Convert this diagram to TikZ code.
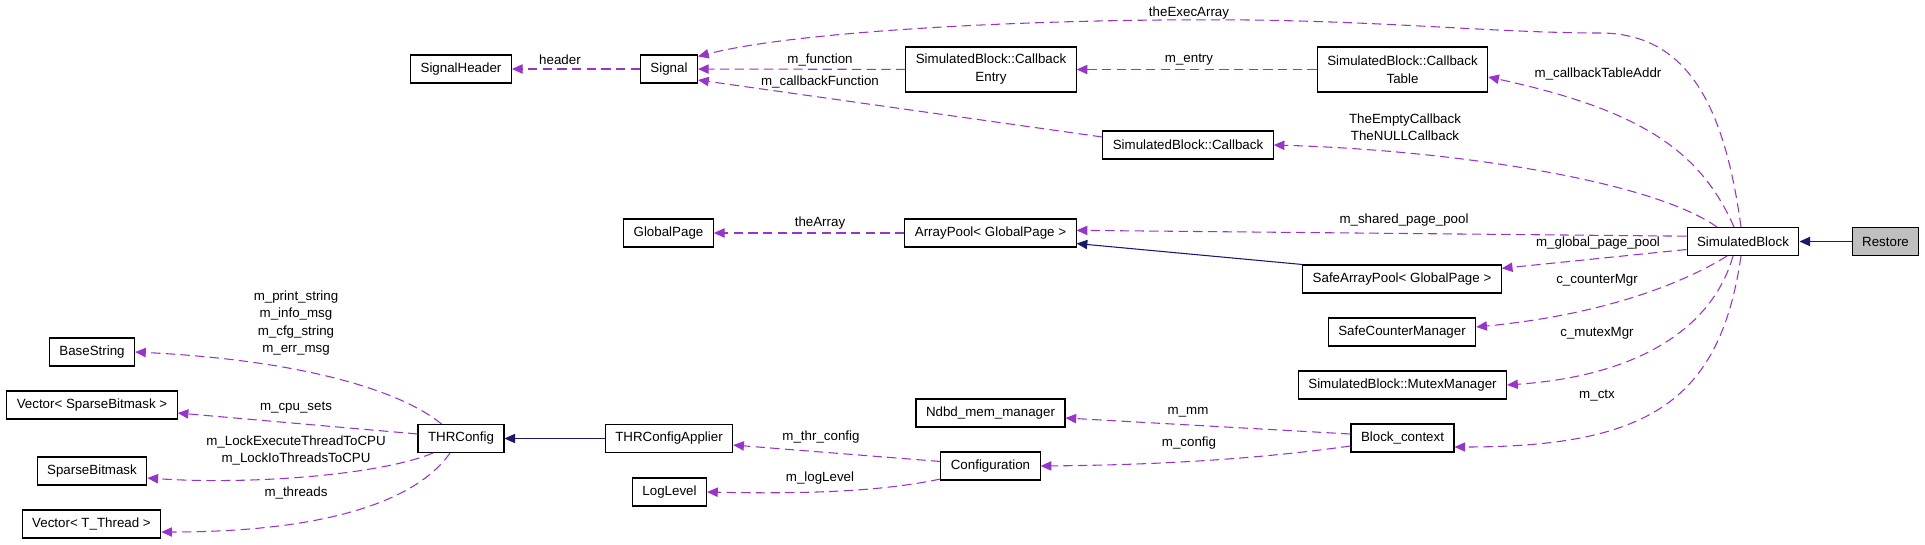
\documentclass[tikz,border=0pt]{standalone}
\usepackage{fontspec}
\setmainfont{Liberation Sans}
\usetikzlibrary{arrows.meta}
\definecolor{relcol}{HTML}{9A32CD}
\definecolor{inhcol}{HTML}{191970}
\definecolor{restorecol}{HTML}{BFBFBF}
\tikzstyle{cls} = [rectangle,
draw=black,
line width=0.8pt,
minimum height=21pt,
inner xsep=7.5pt,
inner ysep=2pt,
text centered,
font=\fontsize{10}{13.5}\selectfont]
\tikzstyle{cls2} = [cls,
align=center,
minimum height=33.75pt]
\tikzstyle{lbl} = [inner sep=0pt,
align=center,
font=\fontsize{10}{13}\selectfont]
\tikzstyle{rel} = [draw=relcol, line width=0.8pt, dash pattern=on 7pt off 4pt, -{Triangle[length=8pt,width=7pt]}]
\tikzstyle{inh} = [draw=inhcol, line width=0.8pt, -{Triangle[length=8pt,width=7pt]}]
\begin{document}
\begin{tikzpicture}[x=0.75pt, y=-0.75pt]
		\useasboundingbox (0,0) rectangle (1925,544);
		% classes
		\node (hdr) [cls] at (461,69) {SignalHeader};
		\node (sig) [cls] at (669,69) {Signal};
		\node (cbEntry) [cls2] at (991,69.5) {SimulatedBlock::Callback\\Entry};
		\node (cbTable) [cls2] at (1402.5,69.5) {SimulatedBlock::Callback\\Table};
		\node (cb) [cls] at (1188,145) {SimulatedBlock::Callback};
		\node (gpage) [cls] at (668.5,233) {GlobalPage};
		\node (apool) [cls] at (990.5,233) {ArrayPool< GlobalPage >};
		\node (simblk) [cls] at (1743,241.5) {SimulatedBlock};
		\node (restore) [cls, fill=restorecol] at (1885.5,241.5) {Restore};
		\node (sapool) [cls] at (1402,279) {SafeArrayPool< GlobalPage >};
		\node (scm) [cls] at (1402,332) {SafeCounterManager};
		\node (mtx) [cls] at (1402.5,385) {SimulatedBlock::MutexManager};
		\node (bctx) [cls] at (1402.5,438) {Block\_context};
		\node (ndbd) [cls] at (990.5,413) {Ndbd\_mem\_manager};
		\node (conf) [cls] at (990.5,466) {Configuration};
		\node (thrApp) [cls] at (669,438.5) {THRConfigApplier};
		\node (thrCfg) [cls] at (461,438.5) {THRConfig};
		\node (logLvl) [cls] at (669.5,492) {LogLevel};
		\node (bstr) [cls] at (92,352) {BaseString};
		\node (vecSbm) [cls] at (92,405) {Vector< SparseBitmask >};
		\node (sbm) [cls] at (92,471) {SparseBitmask};
		\node (vecThr) [cls] at (91.5,524) {Vector< T\_Thread >};
		% inheritance
		\draw [inh] (restore) -- (simblk);
		\draw [inh] (sapool.north west) -- ([yshift=3pt]apool.south east);
		\draw [inh] (thrApp) -- (thrCfg);
		% usage
		\draw [rel] (sig) -- (hdr);
		\draw [rel] (cbEntry) -- (sig);
		\draw [rel] ([yshift=6pt]cb.west) -- ([yshift=-8.25pt]sig.east);
		\draw [rel] (cbTable) -- (cbEntry);
		\draw [rel] ([xshift=-1.5pt]simblk.north) .. controls (1725,110) and (1690,35) .. (1603,33)
			.. controls (1500,33) and (1400,22) .. (1250,20)
			.. controls (1050,18) and (800,30) .. ([yshift=-1.5pt]sig.north east);
		\draw [rel] ([xshift=-6.75pt]simblk.north) .. controls (1700,150) and (1640,110) .. ([yshift=-5.6pt]cbTable.east);
		\draw [rel] ([xshift=-19.5pt]simblk.north) .. controls (1650,180) and (1450,150) .. (cb.east);
		\draw [rel] (apool) -- (gpage);
		\draw [rel] ([yshift=4pt]simblk.west) -- ([yshift=2pt]apool.east);
		\draw [rel] ([yshift=-6pt]simblk.west) -- ([yshift=8pt]sapool.east);
		\draw [rel] ([xshift=-12pt]simblk.south) .. controls (1680,285) and (1600,315) .. ([yshift=3.75pt]scm.east);
		\draw [rel] ([xshift=-7.5pt]simblk.south) .. controls (1715,320) and (1650,375) .. (mtx.east);
		\draw [rel] ([xshift=-1.5pt]simblk.south) .. controls (1720,400) and (1650,447) .. ([yshift=-6.75pt]bctx.east);
		\draw [rel] ([yshift=3pt]bctx.west) -- ([yshift=-3.75pt]ndbd.east);
		\draw [rel] ([yshift=-6pt]bctx.west) .. controls (1250,460) and (1150,465) .. (conf.east);
		\draw [rel] ([yshift=3.4pt]conf.west) -- ([yshift=-4.9pt]thrApp.east);
		\draw [rel] ([yshift=-9.75pt]conf.west) .. controls (880,492) and (800,494) .. (logLvl.east);
		\draw [rel] ([xshift=-14.6pt]thrCfg.north) .. controls (400,390) and (300,360) .. (bstr.east);
		\draw [rel] ([yshift=3.4pt]thrCfg.west) -- ([yshift=-6pt]vecSbm.east);
		\draw [rel] ([xshift=-21pt]thrCfg.south) .. controls (380,475) and (250,485) .. ([yshift=-5.25pt]sbm.east);
		\draw [rel] ([xshift=-8.25pt]thrCfg.south) .. controls (410,510) and (300,532) .. ([yshift=-6pt]vecThr.east);
		% labels
		\node (lHeader) [lbl] at (560,60) {header};
		\node (lFunction) [lbl] at (820,60) {m\_function};
		\node (lCbFunction) [lbl] at (820,82) {m\_callbackFunction};
		\node (lExecArray) [lbl] at (1189,13) {theExecArray};
		\node (lEntry) [lbl] at (1189,60) {m\_entry};
		\node (lTableAddr) [lbl] at (1598,74) {m\_callbackTableAddr};
		\node (lCallbacks) [lbl] at (1405,127.5) {TheEmptyCallback\\TheNULLCallback};
		\node (lArray) [lbl] at (820,223) {theArray};
		\node (lShared) [lbl] at (1404,220) {m\_shared\_page\_pool};
		\node (lGlobal) [lbl] at (1598,243) {m\_global\_page\_pool};
		\node (lCounter) [lbl] at (1597,280) {c\_counterMgr};
		\node (lMutex) [lbl] at (1597,333) {c\_mutexMgr};
		\node (lCtx) [lbl] at (1597,396) {m\_ctx};
		\node (lMm) [lbl] at (1188,412) {m\_mm};
		\node (lConfig) [lbl] at (1189,443) {m\_config};
		\node (lThrConfig) [lbl] at (821,437) {m\_thr\_config};
		\node (lLogLevel) [lbl] at (820,478) {m\_logLevel};
		\node (lStrings) [lbl] at (296,323) {m\_print\_string\\m\_info\_msg\\m\_cfg\_string\\m\_err\_msg};
		\node (lCpuSets) [lbl] at (296,408) {m\_cpu\_sets};
		\node (lLock) [lbl] at (296,450.5) {m\_LockExecuteThreadToCPU\\m\_LockIoThreadsToCPU};
		\node (lThreads) [lbl] at (296,493) {m\_threads};
	\end{tikzpicture}
\end{document}
